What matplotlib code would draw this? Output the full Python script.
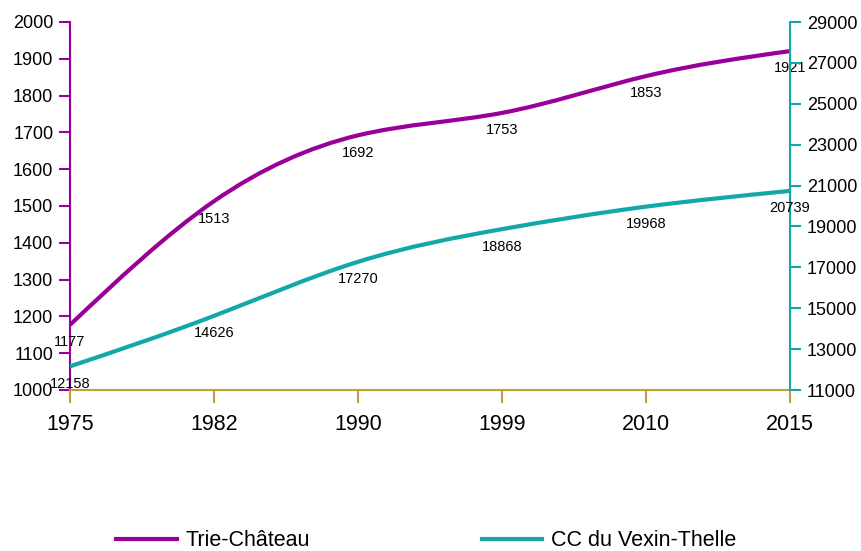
import numpy as np
import matplotlib
matplotlib.use("Agg")
import matplotlib.pyplot as plt
from matplotlib.path import Path
from matplotlib.patches import PathPatch
from matplotlib.lines import Line2D

plt.rcParams['font.family'] = ['Liberation Sans', 'DejaVu Sans']

# === Data ===
years = ['1975', '1982', '1990', '1999', '2010', '2015']
trie = [1177, 1513, 1692, 1753, 1853, 1921]
vexin = [12158, 14626, 17270, 18868, 19968, 20739]

purple = '#990099'
teal = '#13a8a8'
gold = '#bfa035'


def spline_path(y):
    # natural cubic spline through the points, written as bezier segments
    y = np.asarray(y, dtype=float)
    n = len(y)
    A = np.zeros((n, n))
    b = np.zeros(n)
    A[0, 0] = A[-1, -1] = 1
    for i in range(1, n - 1):
        A[i, i - 1], A[i, i], A[i, i + 1] = 1, 4, 1
        b[i] = 6 * (y[i + 1] - 2 * y[i] + y[i - 1])
    M = np.linalg.solve(A, b)
    verts = [(0, y[0])]
    codes = [Path.MOVETO]
    for i in range(n - 1):
        d0 = (y[i + 1] - y[i]) - (2 * M[i] + M[i + 1]) / 6
        d1 = (y[i + 1] - y[i]) + (M[i] + 2 * M[i + 1]) / 6
        verts += [(i + 1 / 3, y[i] + d0 / 3), (i + 2 / 3, y[i + 1] - d1 / 3), (i + 1, y[i + 1])]
        codes += [Path.CURVE4] * 3
    return Path(verts, codes)


fig = plt.figure(figsize=(8.61, 5.51), dpi=100)
ax = fig.add_axes([70 / 861, 1 - 390 / 551, 720 / 861, 368 / 551])
ax2 = ax.twinx()
x = np.arange(len(years))

# Left axis: Trie-Château
ax.add_patch(PathPatch(spline_path(trie), fill=False, edgecolor=purple, lw=3, capstyle='butt', zorder=3))
ax.set_xlim(0, len(years) - 1)
ax.set_ylim(1000, 2000)
ax.set_yticks(range(1000, 2001, 100))
ax.set_xticks(x)
ax.set_xticklabels(years, fontsize=15.5)
ax.tick_params(axis='y', colors=purple, labelcolor='black', labelsize=13, length=8, width=1.5, pad=4)
ax.tick_params(axis='x', colors=gold, labelcolor='black', length=9, width=1.5, pad=8)
for s in ['top', 'right']:
    ax.spines[s].set_visible(False)
ax.spines['left'].set_color(purple)
ax.spines['left'].set_linewidth(1.5)
ax.spines['bottom'].set_color(gold)
ax.spines['bottom'].set_linewidth(1.5)

# Right axis: CC du Vexin-Thelle
ax2.add_patch(PathPatch(spline_path(vexin), fill=False, edgecolor=teal, lw=3, capstyle='butt', zorder=3))
ax2.set_ylim(11000, 29000)
ax2.set_yticks(range(11000, 29001, 2000))
ax2.tick_params(axis='y', colors=teal, labelcolor='black', labelsize=13, length=8, width=1.5, pad=4)
for s in ['top', 'left', 'bottom']:
    ax2.spines[s].set_visible(False)
ax2.spines['right'].set_color(teal)
ax2.spines['right'].set_linewidth(1.5)

# Value labels below each point
for xi, v in zip(x, trie):
    ax.annotate(str(v), (xi, v), xytext=(0, -12.5), textcoords='offset points',
                ha='center', va='center', fontsize=10.5, zorder=5)
for xi, v in zip(x, vexin):
    ax2.annotate(str(v), (xi, v), xytext=(0, -12.5), textcoords='offset points',
                 ha='center', va='center', fontsize=10.5, zorder=5)

handles = [Line2D([], [], color=purple, lw=3), Line2D([], [], color=teal, lw=3)]
fig.legend(handles, ['Trie-Château', 'CC du Vexin-Thelle'], loc='center',
           bbox_to_anchor=(0.495, 1 - 541 / 551), ncol=2, frameon=False, fontsize=15.5,
           handlelength=2.8, handletextpad=0.4, columnspacing=8.0)

fig.savefig('out.png', dpi=100)
